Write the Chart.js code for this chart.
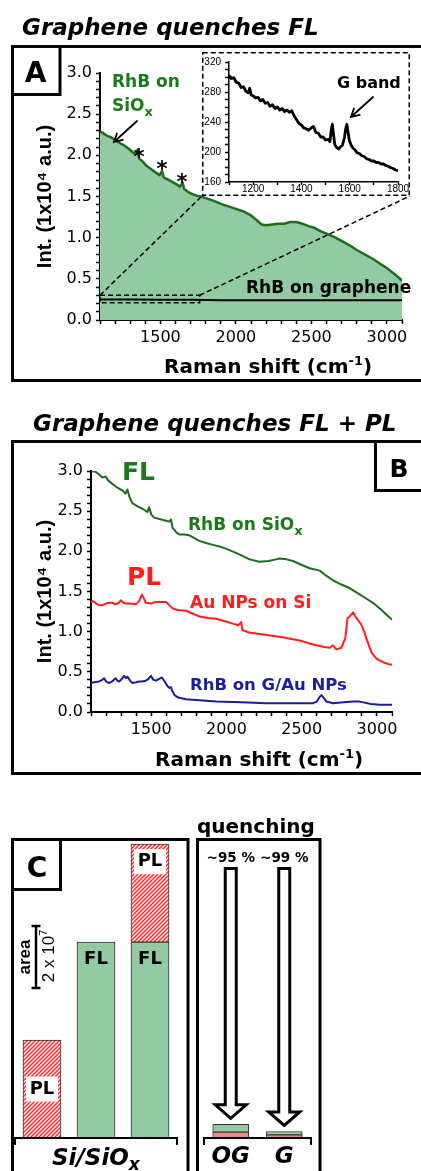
<!DOCTYPE html>
<html>
<head>
<meta charset="utf-8">
<script src="https://cdn.jsdelivr.net/npm/chart.js@4.4.1/dist/chart.umd.min.js"></script>
<style>
  html, body { margin: 0; padding: 0; background: #fff; }
  #fig { position: relative; width: 421px; height: 1171px; overflow: hidden; background: #fff; }
  #fig canvas { position: absolute; }
  #insetBox { position: absolute; left: 202px; top: 52px; width: 208px; height: 144px; background: #fff; z-index: 2; }
  #overlay { position: absolute; left: 0; top: 0; z-index: 3; pointer-events: none; }
</style>
</head>
<body>
<div id="fig">
  <canvas id="chartA" width="421" height="334" style="left:0;top:46px;z-index:1"></canvas>
  <div id="insetBox"><canvas id="chartInset" width="208" height="144" style="left:0;top:0"></canvas></div>
  <canvas id="chartB" width="421" height="332" style="left:0;top:441px;z-index:1"></canvas>
  <canvas id="chartC1" width="190" height="351" style="left:0;top:820px;z-index:1"></canvas>
  <canvas id="chartC2" width="120" height="351" style="left:200px;top:820px;z-index:1"></canvas>

  <svg id="overlay" width="421" height="1171" xmlns="http://www.w3.org/2000/svg" font-family="DejaVu Sans" font-weight="bold">
    <g fill="none" stroke="#000" stroke-width="3">
      <rect x="12.5" y="46.5" width="440" height="334"/>
      <rect x="12.5" y="46.5" width="47.5" height="48"/>
      <rect x="12.5" y="441.5" width="440" height="332"/>
      <rect x="375.5" y="441.5" width="60" height="49"/>
      <rect x="12.5" y="839.5" width="175.5" height="400"/>
      <rect x="12.5" y="839.5" width="48" height="50"/>
      <rect x="197.5" y="839.5" width="122.5" height="400"/>
    </g>
    <g id="pointers" fill="none" stroke="#000" stroke-width="1.8" stroke-linecap="round"></g>

    <text x="22" y="35" font-size="23" font-style="italic">Graphene quenches FL</text>
    <text x="33" y="431" font-size="23" font-style="italic">Graphene quenches FL + PL</text>
    <text x="35.5" y="82" font-size="28" text-anchor="middle">A</text>
    <text x="399" y="477" font-size="25" text-anchor="middle">B</text>
    <text x="37" y="877" font-size="28" text-anchor="middle">C</text>

    <g fill="#1b7a1b" font-size="17">
      <text x="112" y="87">RhB on</text>
      <text x="112" y="111">SiO<tspan font-size="13" dy="5">x</tspan></text>
    </g>
    <g font-size="21" text-anchor="middle">
      <text x="139" y="164">*</text>
      <text x="162" y="176">*</text>
      <text x="182" y="189">*</text>
    </g>
    <text x="337" y="88" font-size="16">G band</text>
    <text x="246" y="293" font-size="17">RhB on graphene</text>
    <text x="164" y="373" font-size="20">Raman shift (cm<tspan font-size="13" dy="-8">-1</tspan><tspan dy="8">)</tspan></text>

    <text x="122" y="480" font-size="25" fill="#1b7a1b">FL</text>
    <text x="188" y="530" font-size="17" fill="#1b7a1b">RhB on SiO<tspan font-size="13" dy="5">x</tspan></text>
    <text x="127" y="585" font-size="25" fill="#ff1e1e">PL</text>
    <text x="190" y="608" font-size="17" fill="#ff1e1e">Au NPs on Si</text>
    <text x="190" y="690" font-size="16.5" fill="#1c1c9c">RhB on G/Au NPs</text>
    <text x="155" y="766" font-size="20">Raman shift (cm<tspan font-size="13" dy="-8">-1</tspan><tspan dy="8">)</tspan></text>

    <text x="197" y="833" font-size="20">quenching</text>
    <text x="52" y="1165" font-size="23" font-style="italic">Si/SiO<tspan font-size="17" dy="5">x</tspan></text>
  </svg>
</div>

<script>
// ---------- data ----------
// panel A, Int. in 1x10^4 a.u.
const aShift = [1100, 1120, 1145, 1170, 1200, 1230, 1260, 1290, 1315, 1335, 1349, 1360, 1380, 1410, 1440, 1470, 1495, 1511, 1522, 1545, 1575, 1605, 1630, 1647, 1658, 1680, 1710, 1740, 1770, 1800, 1850, 1900, 1950, 2000, 2050, 2100, 2140, 2170, 2200, 2240, 2280, 2320, 2360, 2400, 2440, 2480, 2520, 2560, 2600, 2650, 2700, 2750, 2800, 2850, 2900, 2950, 3000, 3050, 3100];
const aSiOx = [2.29, 2.27, 2.24, 2.22, 2.19, 2.15, 2.12, 2.08, 2.04, 2.01, 2.07, 1.96, 1.93, 1.87, 1.83, 1.79, 1.76, 1.81, 1.73, 1.71, 1.68, 1.65, 1.62, 1.67, 1.59, 1.56, 1.53, 1.51, 1.50, 1.48, 1.45, 1.41, 1.38, 1.35, 1.32, 1.27, 1.21, 1.16, 1.15, 1.16, 1.17, 1.17, 1.19, 1.19, 1.17, 1.14, 1.12, 1.08, 1.05, 1.01, 0.96, 0.91, 0.85, 0.80, 0.75, 0.69, 0.63, 0.56, 0.48];
const aGrShift = [1100, 1300, 1500, 1700, 1900, 2100, 2300, 2500, 2700, 2900, 3100];
const aGraphene = [0.25, 0.25, 0.245, 0.245, 0.24, 0.24, 0.24, 0.24, 0.24, 0.24, 0.24];
const zoomShift = [1100, 1760];
const zoomInt = [0.21, 0.30];

// inset, raw counts of RhB on graphene
const insetShift = [1100, 1110, 1120, 1130, 1140, 1150, 1160, 1170, 1180, 1186, 1192, 1200, 1210, 1220, 1230, 1240, 1250, 1260, 1270, 1280, 1290, 1300, 1310, 1320, 1330, 1340, 1350, 1360, 1370, 1380, 1390, 1400, 1410, 1420, 1430, 1440, 1450, 1460, 1470, 1480, 1490, 1500, 1510, 1518, 1524, 1528, 1532, 1538, 1546, 1554, 1562, 1570, 1578, 1584, 1588, 1592, 1598, 1606, 1614, 1622, 1630, 1640, 1650, 1660, 1670, 1680, 1690, 1700, 1710, 1720, 1730, 1740, 1750, 1760, 1770, 1780, 1790, 1800];
const insetCounts = [302, 298, 299, 293, 292, 286, 287, 281, 279, 285, 276, 275, 272, 273, 268, 270, 265, 266, 261, 263, 258, 260, 256, 258, 254, 256, 253, 255, 248, 243, 238, 236, 232, 231, 229, 232, 234, 226, 225, 220, 220, 216, 217, 214, 230, 237, 226, 210, 206, 204, 207, 209, 219, 232, 237, 229, 216, 209, 205, 203, 199, 198, 195, 194, 191, 190, 188, 188, 186, 186, 184, 184, 182, 181, 179, 178, 176, 175];

// panel B, Int. in 1x10^4 a.u.
const bSiOxShift = [1100, 1130, 1153, 1175, 1198, 1215, 1242, 1270, 1307, 1330, 1342, 1355, 1375, 1410, 1442, 1475, 1487, 1500, 1520, 1560, 1598, 1620, 1631, 1642, 1653, 1670, 1687, 1720, 1753, 1790, 1820, 1870, 1910, 1953, 2000, 2040, 2100, 2153, 2220, 2280, 2330, 2353, 2400, 2442, 2500, 2553, 2620, 2660, 2707, 2760, 2820, 2880, 2931, 2980, 3030, 3087, 3100];
const bSiOx = [3.00, 2.99, 2.96, 2.92, 2.93, 2.88, 2.84, 2.80, 2.76, 2.72, 2.77, 2.68, 2.60, 2.56, 2.53, 2.49, 2.55, 2.46, 2.42, 2.40, 2.38, 2.37, 2.40, 2.29, 2.27, 2.23, 2.21, 2.21, 2.20, 2.16, 2.13, 2.10, 2.08, 2.06, 2.03, 2.00, 1.95, 1.90, 1.87, 1.88, 1.90, 1.91, 1.90, 1.88, 1.83, 1.79, 1.76, 1.70, 1.64, 1.59, 1.54, 1.47, 1.41, 1.35, 1.27, 1.17, 1.15];
const bAuShift = [1100, 1115, 1135, 1155, 1175, 1200, 1220, 1242, 1264, 1285, 1298, 1315, 1331, 1360, 1398, 1420, 1438, 1450, 1464, 1498, 1530, 1570, 1598, 1620, 1642, 1675, 1731, 1780, 1820, 1880, 1931, 1990, 2042, 2080, 2098, 2106, 2150, 2220, 2300, 2375, 2430, 2487, 2540, 2598, 2650, 2687, 2707, 2730, 2764, 2790, 2805, 2815, 2842, 2860, 2880, 2898, 2915, 2931, 2964, 2998, 3040, 3087, 3100];
const bAu = [1.37, 1.38, 1.35, 1.33, 1.33, 1.35, 1.36, 1.36, 1.34, 1.36, 1.39, 1.36, 1.35, 1.35, 1.34, 1.38, 1.46, 1.42, 1.36, 1.35, 1.37, 1.37, 1.37, 1.33, 1.29, 1.27, 1.26, 1.22, 1.19, 1.17, 1.16, 1.13, 1.10, 1.08, 1.12, 1.02, 0.99, 0.97, 0.95, 0.93, 0.91, 0.89, 0.86, 0.83, 0.81, 0.80, 0.83, 0.78, 0.80, 0.92, 1.17, 1.18, 1.24, 1.18, 1.13, 1.08, 1.00, 0.91, 0.74, 0.66, 0.62, 0.59, 0.59];
const bGAuShift = [1100, 1120, 1153, 1175, 1187, 1200, 1220, 1240, 1264, 1275, 1287, 1305, 1320, 1332, 1342, 1360, 1375, 1400, 1420, 1440, 1464, 1480, 1498, 1515, 1531, 1550, 1571, 1590, 1609, 1620, 1631, 1640, 1655, 1680, 1731, 1800, 1931, 2100, 2264, 2400, 2520, 2576, 2600, 2620, 2631, 2645, 2664, 2709, 2780, 2842, 2880, 2909, 2960, 3020, 3100];
const bGAu = [0.36, 0.37, 0.38, 0.40, 0.42, 0.38, 0.36, 0.38, 0.42, 0.39, 0.38, 0.41, 0.45, 0.42, 0.44, 0.39, 0.36, 0.37, 0.38, 0.38, 0.39, 0.41, 0.45, 0.40, 0.39, 0.41, 0.43, 0.38, 0.32, 0.30, 0.31, 0.26, 0.21, 0.18, 0.16, 0.15, 0.13, 0.12, 0.11, 0.11, 0.11, 0.11, 0.13, 0.19, 0.21, 0.18, 0.13, 0.11, 0.12, 0.13, 0.13, 0.12, 0.10, 0.09, 0.09];

// tick labels
const specXTicks = [1500, 2000, 2500, 3000];
const specYTicks = [0, 0.5, 1, 1.5, 2, 2.5, 3];
const insetXTicks = [1200, 1400, 1600, 1800];
const insetYTicks = [160, 200, 240, 280, 320];

// panel C, peak areas in 1x10^7
const siCats = ['PL', 'FL', 'FL + PL'];
const siFL = [null, 6.32, 6.32];
const siPL = [3.16, null, 3.16];
const qCats = ['OG', 'G'];
const qPL = [0.19, 0.10];
const qFL = [0.25, 0.11];
const qText = ['~95 %', '~99 %'];
const scaleBar = [4.84, 2];  // start and length of the 2 x 10^7 bar
const arrowFrom = 8.69;

// ---------- styles ----------
const FONT = 'DejaVu Sans';
const VFONT = "'Liberation Sans', 'DejaVu Sans'";
const LINE_GREEN = '#1f6b1f';
const FILL_GREEN = '#92cba1';
const RED = '#ff1e1e';
const SALMON = '#f28a8a';
const BLUE = '#1c1c9c';

function pts(xs, ys) { return xs.map((x, i) => ({ x, y: ys[i] })); }

function axis(dir, o) {
  const s = {
    type: 'linear', min: o.min, max: o.max,
    border: { display: true, color: '#000', width: o.bw || 2 },
    grid: { display: true, drawOnChartArea: false, drawTicks: true, tickLength: o.tl || 4, tickColor: '#000', tickWidth: 1.5 },
    ticks: {
      stepSize: o.step, autoSkip: false, maxRotation: 0, minRotation: 0,
      padding: o.pad == null ? 4 : o.pad, color: '#000',
      font: { family: o.family || FONT, size: o.size || 16 },
      callback: v => (o.labels.includes(v) ? o.fmt(v) : '')
    }
  };
  if (dir === 'x') s.afterFit = sc => { sc.height = o.fit; };
  else s.afterFit = sc => { sc.width = o.fit; };
  if (o.title) {
    s.title = { display: true, text: o.title, color: '#000',
      font: { family: VFONT, size: 20, weight: 'bold' }, padding: { top: 33, bottom: 0 } };
  }
  return s;
}

const baseOpts = {
  responsive: false, animation: false, events: [], devicePixelRatio: 1,
  plugins: { legend: { display: false }, tooltip: { enabled: false } }
};

function line(label, data, color, width, extra) {
  return Object.assign({ label, data, borderColor: color, borderWidth: width, pointRadius: 0,
    fill: false, borderJoinStyle: 'round' }, extra || {});
}

// dashed zoom box in A, linked to the inset frame
const insetBox = document.getElementById('insetBox');
const zoomBoxPlugin = {
  id: 'zoomBox',
  afterDatasetsDraw(chart) {
    const { ctx, scales: { x, y } } = chart;
    const x0 = x.getPixelForValue(zoomShift[0]), x1 = x.getPixelForValue(zoomShift[1]);
    const y0 = y.getPixelForValue(zoomInt[0]), y1 = y.getPixelForValue(zoomInt[1]);
    const cb = chart.canvas.getBoundingClientRect(), ib = insetBox.getBoundingClientRect();
    ctx.save();
    ctx.strokeStyle = '#000';
    ctx.lineWidth = 1.5;
    ctx.setLineDash([5, 3]);
    ctx.strokeRect(x0, y1, x1 - x0, y0 - y1);
    ctx.beginPath();
    ctx.moveTo(x0, y1); ctx.lineTo(ib.left - cb.left, ib.bottom - cb.top);
    ctx.moveTo(x1, y1); ctx.lineTo(ib.right - cb.left, ib.bottom - cb.top);
    ctx.stroke();
    ctx.restore();
  }
};

const insetFramePlugin = {
  id: 'insetFrame',
  beforeDraw(chart) {
    chart.ctx.save();
    chart.ctx.fillStyle = '#fff';
    chart.ctx.fillRect(0, 0, chart.width, chart.height);
    chart.ctx.restore();
  },
  afterDraw(chart) {
    const ctx = chart.ctx;
    ctx.save();
    ctx.strokeStyle = '#000';
    ctx.lineWidth = 1.5;
    ctx.setLineDash([5, 3]);
    ctx.strokeRect(0.75, 0.75, chart.width - 1.5, chart.height - 1.5);
    ctx.restore();
  }
};

// ---------- panel A ----------
new Chart(document.getElementById('chartA'), {
  type: 'line',
  data: { datasets: [
    line('RhB on graphene', pts(aGrShift, aGraphene), '#000', 2),
    line('RhB on SiOx', pts(aShift, aSiOx), LINE_GREEN, 2.5, { fill: 'origin', backgroundColor: FILL_GREEN })
  ] },
  options: Object.assign({}, baseOpts, {
    layout: { padding: { left: 0, right: 19, top: 27, bottom: 0 } },
    scales: {
      x: axis('x', { min: 1100, max: 3100, step: 100, labels: specXTicks, fmt: v => String(v), fit: 60 }),
      y: axis('y', { min: 0, max: 3, step: 0.1, labels: specYTicks, fmt: v => v.toFixed(1), fit: 100,
        title: 'Int. (1x10\u2074 a.u.)' })
    }
  }),
  plugins: [zoomBoxPlugin]
});

new Chart(document.getElementById('chartInset'), {
  type: 'line',
  data: { datasets: [line('RhB on graphene (counts)', pts(insetShift, insetCounts), '#000', 2.8)] },
  options: Object.assign({}, baseOpts, {
    layout: { padding: { left: 0, right: 12, top: 6, bottom: 0 } },
    scales: {
      x: axis('x', { min: 1100, max: 1800, step: 100, labels: insetXTicks, fmt: v => String(v), fit: 14,
        family: VFONT, size: 10, tl: 3, pad: -2, bw: 1.5 }),
      y: axis('y', { min: 160, max: 320, step: 10, labels: insetYTicks, fmt: v => String(v), fit: 27,
        family: VFONT, size: 10, tl: 4, pad: 4, bw: 1.5 })
    }
  }),
  plugins: [insetFramePlugin]
});

// ---------- panel B ----------
new Chart(document.getElementById('chartB'), {
  type: 'line',
  data: { datasets: [
    line('RhB on SiOx', pts(bSiOxShift, bSiOx), LINE_GREEN, 2),
    line('Au NPs on Si', pts(bAuShift, bAu), RED, 2),
    line('RhB on G/Au NPs', pts(bGAuShift, bGAu), BLUE, 2)
  ] },
  options: Object.assign({}, baseOpts, {
    layout: { padding: { left: 0, right: 29, top: 30, bottom: 0 } },
    scales: {
      x: axis('x', { min: 1100, max: 3100, step: 100, labels: specXTicks, fmt: v => String(v), fit: 61 }),
      y: axis('y', { min: 0, max: 3, step: 0.1, labels: specYTicks, fmt: v => v.toFixed(1), fit: 91,
        title: 'Int. (1x10\u2074 a.u.)' })
    }
  })
});

// ---------- panel C ----------
function makeHatch() {
  const c = document.createElement('canvas');
  c.width = 4; c.height = 4;
  const g = c.getContext('2d');
  g.fillStyle = '#fff';
  g.fillRect(0, 0, 4, 4);
  g.strokeStyle = '#ff2a2a';
  g.lineWidth = 1.5;
  g.beginPath();
  g.moveTo(-1, 5); g.lineTo(5, -1);
  g.moveTo(-1, 1); g.lineTo(1, -1);
  g.moveTo(3, 5); g.lineTo(5, 3);
  g.stroke();
  return g.createPattern(c, 'repeat');
}

function bracket(ctx, l, r, y) {
  ctx.save();
  ctx.strokeStyle = '#000';
  ctx.lineWidth = 2;
  ctx.beginPath();
  ctx.moveTo(l, y + 7); ctx.lineTo(l, y); ctx.lineTo(r, y); ctx.lineTo(r, y + 7);
  ctx.stroke();
  ctx.restore();
}

// [dataset, bar, placement]
const siTags = [[1, 0, 'mid'], [0, 1, 'top'], [0, 2, 'top'], [1, 2, 'top']];

const siPlugin = {
  id: 'siExtras',
  afterDatasetsDraw(chart) {
    const { ctx, chartArea: a, scales: { y } } = chart;
    bracket(ctx, a.left, a.right, y.getPixelForValue(0));
    ctx.save();
    ctx.font = `bold 18px ${FONT}`;
    ctx.textAlign = 'center';
    ctx.textBaseline = 'middle';
    siTags.forEach(([ds, i, where]) => {
      const el = chart.getDatasetMeta(ds).data[i];
      const cy = where === 'mid' ? (el.y + el.base) / 2 : el.y + 17.5;
      const txt = chart.data.datasets[ds].label;
      if (txt === 'PL') {
        ctx.fillStyle = '#fff';
        ctx.fillRect(el.x - 16, cy - 12.5, 32, 25);
      }
      ctx.fillStyle = '#000';
      ctx.fillText(txt, el.x, cy);
    });
    // scale bar: 2 x 10^7
    const sx = a.left + 21;
    const sTop = y.getPixelForValue(scaleBar[0] + scaleBar[1]);
    const sBot = y.getPixelForValue(scaleBar[0]);
    ctx.strokeStyle = '#000';
    ctx.lineWidth = 2.5;
    ctx.beginPath();
    ctx.moveTo(sx, sTop); ctx.lineTo(sx, sBot);
    ctx.moveTo(sx - 4.5, sTop); ctx.lineTo(sx + 4.5, sTop);
    ctx.moveTo(sx - 4.5, sBot); ctx.lineTo(sx + 4.5, sBot);
    ctx.stroke();
    const mid = (sTop + sBot) / 2;
    ctx.textBaseline = 'alphabetic';
    ctx.save();
    ctx.translate(sx - 10, mid);
    ctx.rotate(-Math.PI / 2);
    ctx.font = `bold 17px ${VFONT}`;
    ctx.fillText('area', 0, 4.4);
    ctx.restore();
    ctx.save();
    ctx.translate(sx + 12, mid - 1);
    ctx.rotate(-Math.PI / 2);
    ctx.textAlign = 'left';
    ctx.font = `17px ${VFONT}`;
    const w1 = ctx.measureText('2 x 10').width;
    ctx.font = `11px ${VFONT}`;
    const w2 = ctx.measureText('7').width;
    ctx.font = `17px ${VFONT}`;
    ctx.fillText('2 x 10', -(w1 + w2) / 2, 6.1);
    ctx.font = `11px ${VFONT}`;
    ctx.fillText('7', -(w1 + w2) / 2 + w1, -1);
    ctx.restore();
    ctx.restore();
  }
};

function hollowArrow(ctx, x, top, tip) {
  const hb = tip - 13.5;
  ctx.beginPath();
  ctx.moveTo(x - 5.5, top); ctx.lineTo(x - 5.5, hb); ctx.lineTo(x - 15.5, hb);
  ctx.lineTo(x, tip);
  ctx.lineTo(x + 15.5, hb); ctx.lineTo(x + 5.5, hb); ctx.lineTo(x + 5.5, top);
  ctx.closePath();
  ctx.fillStyle = '#fff';
  ctx.fill();
  ctx.lineWidth = 3;
  ctx.lineJoin = 'miter';
  ctx.strokeStyle = '#000';
  ctx.stroke();
}

const quenchPlugin = {
  id: 'quench',
  afterDatasetsDraw(chart) {
    const { ctx, chartArea: a, scales: { y } } = chart;
    bracket(ctx, a.left, a.right, y.getPixelForValue(0));
    const top = y.getPixelForValue(arrowFrom);
    const meta = chart.getDatasetMeta(chart.data.datasets.length - 1);
    ctx.save();
    meta.data.forEach((el, i) => {
      hollowArrow(ctx, el.x, top, el.y - 6);
      ctx.fillStyle = '#000';
      ctx.font = `bold 13.5px ${FONT}`;
      ctx.textAlign = 'center';
      ctx.textBaseline = 'alphabetic';
      ctx.fillText(qText[i], el.x, top - 6.5);
    });
    ctx.restore();
  }
};

const barOpts = { borderColor: '#333', borderWidth: 1, borderSkipped: false };

new Chart(document.getElementById('chartC1'), {
  type: 'bar',
  data: { labels: siCats, datasets: [
    Object.assign({ label: 'FL', data: siFL, backgroundColor: FILL_GREEN, barThickness: 38 }, barOpts),
    Object.assign({ label: 'PL', data: siPL, backgroundColor: makeHatch(), barThickness: 38 }, barOpts)
  ] },
  options: Object.assign({}, baseOpts, {
    layout: { padding: { left: 15, right: 13, top: 8, bottom: 33 } },
    scales: {
      x: { stacked: true, display: false },
      y: { stacked: true, display: false, min: 0, max: 10 }
    }
  }),
  plugins: [siPlugin]
});

new Chart(document.getElementById('chartC2'), {
  type: 'bar',
  data: { labels: qCats, datasets: [
    Object.assign({ label: 'PL', data: qPL, backgroundColor: SALMON, barThickness: 36 }, barOpts),
    Object.assign({ label: 'FL', data: qFL, backgroundColor: FILL_GREEN, barThickness: 36 }, barOpts)
  ] },
  options: Object.assign({}, baseOpts, {
    layout: { padding: { left: 4, right: 9, top: 8, bottom: 0 } },
    scales: {
      x: { stacked: true, grid: { display: false, drawTicks: false }, border: { display: false },
        ticks: { color: '#000', padding: 5, font: { family: FONT, size: 23, weight: 'bold', style: 'italic' } },
        afterFit: sc => { sc.height = 33; } },
      y: { stacked: true, display: false, min: 0, max: 10 }
    }
  }),
  plugins: [quenchPlugin]
});

// ---------- pointer arrows ----------
function pointer(x1, y1, x2, y2) {
  const ang = Math.atan2(y1 - y2, x1 - x2), len = 9, spread = 0.5;
  const a = [x2 + len * Math.cos(ang + spread), y2 + len * Math.sin(ang + spread)];
  const b = [x2 + len * Math.cos(ang - spread), y2 + len * Math.sin(ang - spread)];
  return `M${x1},${y1} L${x2},${y2} M${a[0]},${a[1]} L${x2},${y2} L${b[0]},${b[1]}`;
}
const ptrGroup = document.getElementById('pointers');
[[137, 121, 114, 142], [373, 97, 351, 117]].forEach(p => {
  const path = document.createElementNS('http://www.w3.org/2000/svg', 'path');
  path.setAttribute('d', pointer(...p));
  ptrGroup.appendChild(path);
});
</script>
</body>
</html>
